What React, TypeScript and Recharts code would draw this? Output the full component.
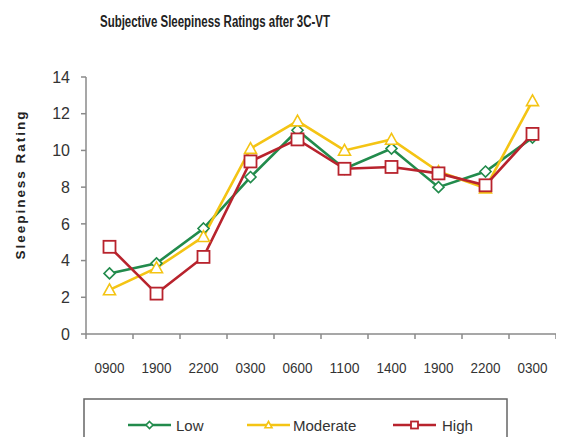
import React from "react"
import { Label, Line, LineChart, XAxis, YAxis } from "recharts"

const times = ["0900", "1900", "2200", "0300", "0600", "1100", "1400", "1900", "2200", "0300"]
const low = [3.3, 3.85, 5.75, 8.55, 11.1, 9.0, 10.1, 8.0, 8.85, 10.7]
const moderate = [2.4, 3.6, 5.3, 10.1, 11.6, 10.0, 10.6, 8.85, 7.95, 12.7]
const high = [4.75, 2.2, 4.2, 9.4, 10.6, 9.0, 9.1, 8.75, 8.1, 10.9]
const yTicks = [0, 2, 4, 6, 8, 10, 12, 14]

const data = times.map((t, i) => ({ time: t, low: low[i], moderate: moderate[i], high: high[i] }))

const GREEN = "#228b4c"
const YELLOW = "#f4c414"
const RED = "#b8232d"
const AXIS = "#8a8a8a"
const FONT = "Arial, 'Liberation Sans', sans-serif"

const W = 564
const H = 445
const MARGIN = { top: 77, right: 8, left: 46, bottom: 81 }
const Y_W = 40
const X_H = 30
const STEP = (W - MARGIN.left - Y_W - MARGIN.right) / times.length

function Diamond({ cx, cy, stroke, r = 5.5 }: any) {
  if (cx == null || cy == null) return null
  return (
    <path
      d={`M${cx},${cy - r}L${cx + r},${cy}L${cx},${cy + r}L${cx - r},${cy}Z`}
      fill="#fff"
      stroke={stroke}
      strokeWidth={1.6}
    />
  )
}

function Triangle({ cx, cy, stroke, r = 6 }: any) {
  if (cx == null || cy == null) return null
  return (
    <path
      d={`M${cx},${cy - r}L${cx + r},${cy + r * 0.8}L${cx - r},${cy + r * 0.8}Z`}
      fill="#fff"
      stroke={stroke}
      strokeWidth={1.6}
    />
  )
}

function Square({ cx, cy, stroke, r = 6 }: any) {
  if (cx == null || cy == null) return null
  return <rect x={cx - r} y={cy - r} width={r * 2} height={r * 2} fill="#fff" stroke={stroke} strokeWidth={1.8} />
}

function XTick({ x, y, payload, index }: any) {
  const last = index === times.length - 1
  return (
    <g>
      <line x1={x - STEP / 2} y1={y} x2={x - STEP / 2} y2={y + 5} stroke={AXIS} strokeWidth={1.5} />
      {last && <line x1={x + STEP / 2} y1={y} x2={x + STEP / 2} y2={y + 5} stroke={AXIS} strokeWidth={1.5} />}
      <text
        x={x}
        y={y + 39}
        textAnchor="middle"
        fontSize={15}
        fontFamily={FONT}
        fill="#333"
        textLength={30}
        lengthAdjust="spacingAndGlyphs"
      >
        {payload.value}
      </text>
    </g>
  )
}

function YLabel() {
  const cy = MARGIN.top + (H - MARGIN.top - MARGIN.bottom - X_H) / 2 - 20
  return (
    <text
      x={20}
      y={cy}
      transform={`rotate(-90, 20, ${cy})`}
      textAnchor="middle"
      dominantBaseline="central"
      fontSize={13.5}
      fontWeight="bold"
      fontFamily={FONT}
      fill="#222"
      textLength={148}
      lengthAdjust="spacing"
    >
      Sleepiness Rating
    </text>
  )
}

const legendItems = [
  { name: "Low", color: GREEN, Marker: Diamond, x1: 128, tx: 176 },
  { name: "Moderate", color: YELLOW, Marker: Triangle, x1: 247, tx: 293 },
  { name: "High", color: RED, Marker: Square, x1: 393, tx: 442 },
]

export default function App() {
  return (
    <div style={{ position: "relative", width: W, height: H, margin: -8, background: "#fff", overflow: "hidden" }}>
      <svg width={W} height={60} style={{ position: "absolute", left: 0, top: 0 }}>
        <text
          x={100}
          y={27}
          fontSize={16}
          fontWeight="bold"
          fontFamily={FONT}
          fill="#222"
          textLength={230}
          lengthAdjust="spacingAndGlyphs"
        >
          Subjective Sleepiness Ratings after 3C-VT
        </text>
      </svg>
      <LineChart width={W} height={H} data={data} margin={MARGIN}>
        <XAxis
          dataKey="time"
          height={X_H}
          padding={{ left: STEP / 2, right: STEP / 2 }}
          axisLine={{ stroke: AXIS, strokeWidth: 1.5 }}
          tickLine={false}
          tickSize={0}
          tickMargin={0}
          interval={0}
          tick={<XTick />}
        />
        <YAxis
          width={Y_W}
          domain={[0, 14]}
          ticks={yTicks}
          interval={0}
          axisLine={{ stroke: AXIS, strokeWidth: 1.5 }}
          tickLine={{ stroke: AXIS, strokeWidth: 1.5 }}
          tickSize={5}
          tickMargin={11}
          tick={{ fontSize: 16, fontFamily: FONT, fill: "#333" }}
        >
          <Label content={<YLabel />} />
        </YAxis>
        <Line
          type="linear"
          dataKey="low"
          stroke={GREEN}
          strokeWidth={2.6}
          isAnimationActive={false}
          dot={(p: any) => <Diamond key={`l-${p.index}`} cx={p.cx} cy={p.cy} stroke={GREEN} />}
        />
        <Line
          type="linear"
          dataKey="moderate"
          stroke={YELLOW}
          strokeWidth={2.6}
          isAnimationActive={false}
          dot={(p: any) => <Triangle key={`m-${p.index}`} cx={p.cx} cy={p.cy} stroke={YELLOW} />}
        />
        <Line
          type="linear"
          dataKey="high"
          stroke={RED}
          strokeWidth={2.6}
          isAnimationActive={false}
          dot={(p: any) => <Square key={`h-${p.index}`} cx={p.cx} cy={p.cy} stroke={RED} />}
        />
      </LineChart>
      <svg width={W} height={60} style={{ position: "absolute", left: 0, top: 395 }}>
        <rect x={84} y={4} width={423} height={60} fill="#fff" stroke="#666" strokeWidth={1.5} />
        {legendItems.map(({ name, color, Marker, x1, tx }) => (
          <g key={name}>
            <line x1={x1} y1={30} x2={x1 + 43} y2={30} stroke={color} strokeWidth={2.6} />
            <Marker cx={x1 + 21.5} cy={30} stroke={color} r={3.5} />
            <text x={tx} y={30} dominantBaseline="central" fontSize={15} fontFamily={FONT} fill="#333">
              {name}
            </text>
          </g>
        ))}
      </svg>
    </div>
  )
}
